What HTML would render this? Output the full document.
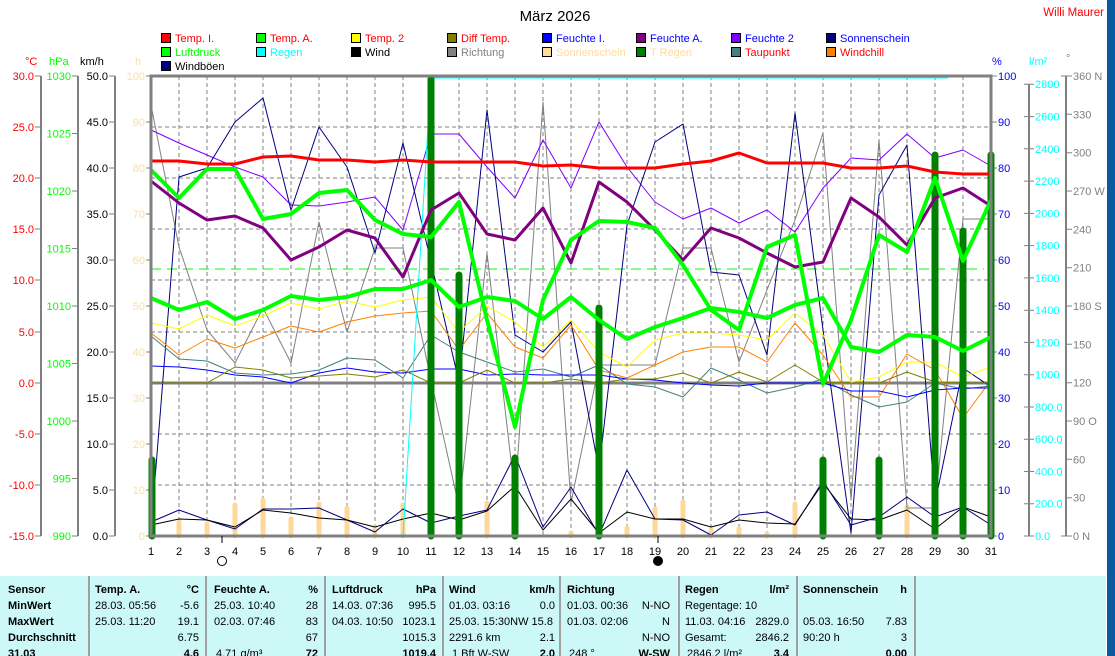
<!DOCTYPE html>
<html><head><meta charset="utf-8"><style>
html,body{margin:0;padding:0;background:#fff;}
svg{display:block;font-family:"Liberation Sans",Arial,sans-serif;font-size:11px;}
</style></head><body>
<svg width="1115" height="656" viewBox="0 0 1115 656" xmlns="http://www.w3.org/2000/svg">
<rect x="0" y="0" width="1115" height="656" fill="#fff"/>
<rect x="1107" y="0" width="8" height="656" fill="#0a5aa0"/>
<text x="555" y="21" font-size="15" text-anchor="middle" fill="#000">März 2026</text>
<text x="1104" y="16" font-size="11.5" text-anchor="end" fill="#f00">Willi Maurer</text>

<!-- legend -->
<g stroke="#000" stroke-width="1">
<rect x="161.5" y="33.5" width="9" height="9" fill="#f00"/>
<rect x="256.5" y="33.5" width="9" height="9" fill="#0f0"/>
<rect x="351.5" y="33.5" width="9" height="9" fill="#ff0"/>
<rect x="447.5" y="33.5" width="9" height="9" fill="#808000"/>
<rect x="542.5" y="33.5" width="9" height="9" fill="#00f"/>
<rect x="636.5" y="33.5" width="9" height="9" fill="#800080"/>
<rect x="731.5" y="33.5" width="9" height="9" fill="#8000ff"/>
<rect x="826.5" y="33.5" width="9" height="9" fill="#000080"/>
<rect x="161.5" y="47.5" width="9" height="9" fill="#0f0"/>
<rect x="256.5" y="47.5" width="9" height="9" fill="#0ff"/>
<rect x="351.5" y="47.5" width="9" height="9" fill="#000"/>
<rect x="447.5" y="47.5" width="9" height="9" fill="#808080"/>
<rect x="542.5" y="47.5" width="9" height="9" fill="#ffdc9c"/>
<rect x="636.5" y="47.5" width="9" height="9" fill="#008000"/>
<rect x="731.5" y="47.5" width="9" height="9" fill="#408080"/>
<rect x="826.5" y="47.5" width="9" height="9" fill="#ff8000"/>
<rect x="161.5" y="61.5" width="9" height="9" fill="#000080"/>
</g>
<text x="175" y="42" fill="#f00">Temp. I.</text>
<text x="270" y="42" fill="#f00">Temp. A.</text>
<text x="365" y="42" fill="#f00">Temp. 2</text>
<text x="461" y="42" fill="#f00">Diff Temp.</text>
<text x="556" y="42" fill="#00f">Feuchte I.</text>
<text x="650" y="42" fill="#00f">Feuchte A.</text>
<text x="745" y="42" fill="#00f">Feuchte 2</text>
<text x="840" y="42" fill="#00f">Sonnenschein</text>
<text x="175" y="56" fill="#0f0">Luftdruck</text>
<text x="270" y="56" fill="#0ff">Regen</text>
<text x="365" y="56" fill="#000">Wind</text>
<text x="461" y="56" fill="#808080">Richtung</text>
<text x="556" y="56" fill="#ffdc9c">Sonnenschein</text>
<text x="650" y="56" fill="#ffdc9c">T Regen</text>
<text x="745" y="56" fill="#f00">Taupunkt</text>
<text x="840" y="56" fill="#f00">Windchill</text>
<text x="175" y="70" fill="#000">Windböen</text>

<!-- unit headers -->
<text x="25" y="65" fill="#f00">°C</text>
<text x="49" y="65" fill="#0f0">hPa</text>
<text x="80" y="65" fill="#000">km/h</text>
<text x="135" y="65" fill="#ffdc9c">h</text>
<text x="992" y="65" fill="#00f">%</text>
<text x="1029" y="65" fill="#0ff">l/m²</text>
<text x="1066" y="62" fill="#808080">°</text>

<!-- left axes -->
<g stroke="#808080" stroke-width="2" fill="none">
<line x1="41" y1="76" x2="41" y2="536"/>
<line x1="78" y1="76" x2="78" y2="536"/>
<line x1="115" y1="76" x2="115" y2="536"/>
<line x1="1029" y1="84" x2="1029" y2="536"/>
<line x1="1066" y1="76" x2="1066" y2="536"/>
</g>
<g stroke="#808080" stroke-width="1">
<path d="M35 76H41M35 127H41M35 178H41M35 229H41M35 280H41M35 332H41M35 383H41M35 434H41M35 485H41M35 536H41"/>
<path d="M72 76H78M72 133.5H78M72 191H78M72 248.5H78M72 306H78M72 363.5H78M72 421H78M72 478.5H78M72 536H78"/>
<path d="M109 76H115M109 122H115M109 168H115M109 214H115M109 260H115M109 306H115M109 352H115M109 398H115M109 444H115M109 490H115M109 536H115"/>
<path d="M146 76H151M146 122H151M146 168H151M146 214H151M146 260H151M146 306H151M146 352H151M146 398H151M146 444H151M146 490H151M146 536H151"/>
<path d="M991 76H997M991 122H997M991 168H997M991 214H997M991 260H997M991 306H997M991 352H997M991 398H997M991 444H997M991 490H997M991 536H997"/>
<path d="M1024 84.3H1034M1024 116.6H1034M1024 148.8H1034M1024 181.1H1034M1024 213.4H1034M1024 245.6H1034M1024 277.9H1034M1024 310.2H1034M1024 342.4H1034M1024 374.7H1034M1024 407H1034M1024 439.2H1034M1024 471.5H1034M1024 503.7H1034M1024 536H1034"/>
<path d="M1061 76H1072M1066 114.3H1072M1066 152.7H1072M1066 191H1072M1066 229.3H1072M1066 267.7H1072M1066 306H1072M1066 344.3H1072M1066 382.7H1072M1066 421H1072M1066 459.3H1072M1066 497.7H1072M1061 536H1072"/>
</g>
<g fill="#f00" text-anchor="end">
<text x="34" y="80">30.0</text><text x="34" y="131">25.0</text><text x="34" y="182">20.0</text><text x="34" y="233">15.0</text><text x="34" y="284">10.0</text><text x="34" y="336">5.0</text><text x="34" y="387">0.0</text><text x="34" y="438">-5.0</text><text x="34" y="489">-10.0</text><text x="34" y="540">-15.0</text>
</g>
<g fill="#0f0" text-anchor="end">
<text x="71" y="80">1030</text><text x="71" y="137.5">1025</text><text x="71" y="195">1020</text><text x="71" y="252.5">1015</text><text x="71" y="310">1010</text><text x="71" y="367.5">1005</text><text x="71" y="425">1000</text><text x="71" y="482.5">995</text><text x="71" y="540">990</text>
</g>
<g fill="#000" text-anchor="end">
<text x="108" y="80">50.0</text><text x="108" y="126">45.0</text><text x="108" y="172">40.0</text><text x="108" y="218">35.0</text><text x="108" y="264">30.0</text><text x="108" y="310">25.0</text><text x="108" y="356">20.0</text><text x="108" y="402">15.0</text><text x="108" y="448">10.0</text><text x="108" y="494">5.0</text><text x="108" y="540">0.0</text>
</g>
<g fill="#ffdc9c" text-anchor="end">
<text x="145" y="80">100</text><text x="145" y="126">90</text><text x="145" y="172">80</text><text x="145" y="218">70</text><text x="145" y="264">60</text><text x="145" y="310">50</text><text x="145" y="356">40</text><text x="145" y="402">30</text><text x="145" y="448">20</text><text x="145" y="494">10</text><text x="145" y="540">0</text>
</g>
<g fill="#00f">
<text x="998" y="80">100</text><text x="998" y="126">90</text><text x="998" y="172">80</text><text x="998" y="218">70</text><text x="998" y="264">60</text><text x="998" y="310">50</text><text x="998" y="356">40</text><text x="998" y="402">30</text><text x="998" y="448">20</text><text x="998" y="494">10</text><text x="998" y="540">0</text>
</g>
<g fill="#0ff">
<text x="1035" y="88">2800</text><text x="1035" y="120.6">2600</text><text x="1035" y="152.8">2400</text><text x="1035" y="185">2200</text><text x="1035" y="217.4">2000</text><text x="1035" y="249.6">1800</text><text x="1035" y="282">1600</text><text x="1035" y="314.2">1400</text><text x="1035" y="346.4">1200</text><text x="1035" y="378.7">1000</text><text x="1035" y="411">800.0</text><text x="1035" y="443.2">600.0</text><text x="1035" y="475.5">400.0</text><text x="1035" y="507.7">200.0</text><text x="1035" y="540">0.0</text>
</g>
<g fill="#808080">
<text x="1073" y="80">360 N</text><text x="1073" y="118.3">330</text><text x="1073" y="156.7">300</text><text x="1073" y="195">270 W</text><text x="1073" y="233.3">240</text><text x="1073" y="271.7">210</text><text x="1073" y="310">180 S</text><text x="1073" y="348.3">150</text><text x="1073" y="386.7">120</text><text x="1073" y="425">90  O</text><text x="1073" y="463.3">60</text><text x="1073" y="501.7">30</text><text x="1073" y="540">0    N</text>
</g>

<!-- grid -->
<g stroke="#808080" stroke-width="1" stroke-dasharray="4,3">
<path d="M151 127H991M151 178H991M151 229H991M151 280H991M151 332H991M151 434H991M151 485H991"/>
<path d="M179 76V536M207 76V536M235 76V536M263 76V536M291 76V536M319 76V536M347 76V536M375 76V536M403 76V536M431 76V536M459 76V536M487 76V536M515 76V536M543 76V536M571 76V536M599 76V536M627 76V536M655 76V536M683 76V536M711 76V536M739 76V536M767 76V536M795 76V536M823 76V536M851 76V536M879 76V536M907 76V536M935 76V536M963 76V536"/>
</g>
<line x1="151" y1="269" x2="984" y2="269" stroke="#0f0" stroke-width="1" stroke-dasharray="10,6"/>
<line x1="151" y1="383" x2="991" y2="383" stroke="#808080" stroke-width="3"/>

<!-- sunshine bars -->
<g stroke="#ffd898" stroke-width="5" stroke-linecap="round">
<path d="M179 536V522M207 536V524M235 536V505M263 536V500M291 536V519M319 536V504M347 536V508M375 536V527M403 536V505M431 536V529M459 536V534M487 536V503M515 536V535M571 536V533M627 536V528M655 536V509M683 536V502M711 536V530M739 536V529M767 536V534M795 536V504M823 536V534M879 536V529M907 536V507M935 536V535M963 536V535"/>
</g>

<!-- thin lines -->
<g fill="none" stroke-width="1" stroke-linejoin="round">
<polyline stroke="#808080" points="151,105 179,247 207,330 235,363 263,308 291,363 319,222 347,332 375,248 403,248 431,380 459,507 487,253 515,495 543,102 571,503 599,365 627,365 655,365 683,248 711,248 739,362 767,290 795,220 823,133 851,500 879,140 907,508 935,508 963,219 991,219"/>
<polyline stroke="#8000ff" points="151,130 179,143 207,155 235,167 263,177 291,205 319,206 347,202 375,197 403,230 431,134 459,134 487,167 515,198 543,140 571,188 599,122 627,167 655,202 683,219 711,208 739,223 767,210 795,232 823,188 851,158 879,160 907,134 935,158 963,150 991,166"/>
<polyline stroke="#000080" points="151,530 179,177 207,168 235,122 263,98 291,210 319,127 347,167 375,253 403,143 431,262 459,382 487,110 515,335 543,352 571,322 599,470 627,225 655,142 683,124 711,272 739,275 767,355 795,113 823,330 851,533 879,195 907,145 935,503 963,368 991,387"/>
<polyline stroke="#ffff00" points="151,323 179,329 207,315 235,326 263,316 291,303 319,309 347,301 375,307 403,300 431,297 459,332 487,306 515,322 543,347 571,320 599,352 627,367 655,340 683,333 711,333 739,335 767,340 795,313 823,335 851,382 879,377 907,362 935,362 963,377 991,367"/>
<polyline stroke="#ff8000" points="151,333 179,355 207,339 235,348 263,337 291,326 319,332 347,322 375,316 403,313 431,311 459,350 487,313 515,347 543,358 571,325 599,370 627,378 655,365 683,352 711,347 739,347 767,362 795,323 823,355 851,397 879,397 907,354 935,370 963,418 991,380"/>
<polyline stroke="#408080" points="151,336 179,359 207,361 235,373 263,375 291,374 319,370 347,358 375,360 403,378 431,335 459,352 487,362 515,372 543,369 571,377 599,365 627,384 655,387 683,397 711,368 739,380 767,393 795,387 823,379 851,395 879,407 907,402 935,383 963,389 991,386"/>
<polyline stroke="#0000ff" points="151,366 179,367 207,370 235,375 263,377 291,383 319,373 347,368 375,372 403,373 431,369 459,369 487,375 515,374 543,375 571,375 599,375 627,379 655,380 683,383 711,385 739,386 767,383 795,383 823,383 851,391 879,391 907,397 935,390 963,388 991,388"/>
<polyline stroke="#808000" points="151,383 179,383 207,383 235,367 263,370 291,378 319,376 347,374 375,377 403,370 431,383 459,383 487,370 515,383 543,383 571,379 599,383 627,379 655,379 683,373 711,383 739,372 767,382 795,365 823,382 851,383 879,383 907,372 935,382 963,383 991,383"/>
<polyline stroke="#000080" points="151,522 179,510 207,520 235,529 263,509 291,509 319,508 347,520 375,532 403,509 431,523 459,516 487,510 515,455 543,527 571,487 599,535 627,470 655,519 683,520 711,535 739,515 767,512 795,525 823,481 851,525 879,517 907,497 935,517 963,507 991,525"/>
<polyline stroke="#000" points="151,525 179,519 207,520 235,527 263,510 291,513 319,518 347,520 375,527 403,519 431,513 459,520 487,511 515,486 543,530 571,499 599,533 627,512 655,519 683,519 711,527 739,520 767,523 795,524 823,483 851,519 879,520 907,510 935,529 963,507 991,517"/>
<polyline stroke="#0ff" points="151,536 403,536 431,78 948,78"/>
</g>

<!-- rain bars -->
<g stroke="#008000" stroke-width="7" stroke-linecap="round">
<path d="M152 536V460M431 536V79M459 536V275M515 536V458M599 536V308M823 536V460M879 536V460M935 536V155M963 536V231M991 536V155"/>
</g>

<!-- thick lines -->
<g fill="none" stroke-linejoin="round">
<polyline stroke="#800080" stroke-width="3" points="151,181 179,203 207,220 235,216 263,228 291,260 319,247 347,230 375,238 403,277 431,210 459,193 487,234 515,240 543,208 571,263 599,182 627,202 655,230 683,260 711,228 739,238 767,253 795,267 823,262 851,198 879,217 907,245 935,198 963,188 991,206"/>
<polyline stroke="#f00" stroke-width="3" points="151,161 179,161 207,164 235,164 263,157 291,156 319,160 347,160 375,162 403,160 431,162 459,162 487,162 515,162 543,166 571,165 599,168 627,168 655,168 683,164 711,161 739,153 767,163 795,163 823,163 851,168 879,168 907,166 935,172 963,174 991,174"/>
<polyline stroke="#00ff00" stroke-width="4" points="151,298 179,310 207,302 235,319 263,310 291,296 319,300 347,297 375,289 403,289 431,280 459,307 487,297 515,301 543,319 571,297 599,320 627,339 655,327 683,318 711,308 739,312 767,318 795,305 823,298 851,347 879,352 907,335 935,337 963,351 991,337"/>
<polyline stroke="#00ff00" stroke-width="4" points="151,170 179,198 207,169 235,169 263,219 291,214 319,193 347,190 375,220 403,234 431,237 459,202 487,320 515,427 543,300 571,240 599,221 627,222 655,228 683,265 711,310 739,330 767,247 795,235 823,384 851,320 879,235 907,252 935,178 963,261 991,200"/>
</g>

<!-- frame -->
<rect x="151" y="76" width="840" height="460" fill="none" stroke="#808080" stroke-width="3"/>

<!-- x labels -->
<g fill="#000" text-anchor="middle">
<text x="151" y="555">1</text><text x="179" y="555">2</text><text x="207" y="555">3</text><text x="235" y="555">4</text><text x="263" y="555">5</text><text x="291" y="555">6</text><text x="319" y="555">7</text><text x="347" y="555">8</text><text x="375" y="555">9</text><text x="403" y="555">10</text><text x="431" y="555">11</text><text x="459" y="555">12</text><text x="487" y="555">13</text><text x="515" y="555">14</text><text x="543" y="555">15</text><text x="571" y="555">16</text><text x="599" y="555">17</text><text x="627" y="555">18</text><text x="655" y="555">19</text><text x="683" y="555">20</text><text x="711" y="555">21</text><text x="739" y="555">22</text><text x="767" y="555">23</text><text x="795" y="555">24</text><text x="823" y="555">25</text><text x="851" y="555">26</text><text x="879" y="555">27</text><text x="907" y="555">28</text><text x="935" y="555">29</text><text x="963" y="555">30</text><text x="991" y="555">31</text>
</g>
<line x1="222" y1="536" x2="222" y2="543" stroke="#000"/>
<line x1="658" y1="536" x2="658" y2="543" stroke="#000"/>
<circle cx="222" cy="561" r="4.5" fill="#fff" stroke="#000"/>
<circle cx="658" cy="561" r="4.5" fill="#000" stroke="#000"/>

<!-- table -->
<rect x="0" y="576" width="1106" height="80" fill="#ccf8f8"/>
<g stroke="#a0a0a0" stroke-width="2">
<path d="M89 576V656M206 576V656M325 576V656M443 576V656M560 576V656M679 576V656M797 576V656M915 576V656"/>
</g>
<g fill="#000">
<g font-weight="bold">
<text x="8" y="593">Sensor</text><text x="8" y="609">MinWert</text><text x="8" y="625">MaxWert</text><text x="8" y="641">Durchschnitt</text><text x="8" y="657">31.03</text>
<text x="95" y="593">Temp. A.</text><text x="199" y="593" text-anchor="end">°C</text>
<text x="214" y="593">Feuchte A.</text><text x="318" y="593" text-anchor="end">%</text>
<text x="332" y="593">Luftdruck</text><text x="436" y="593" text-anchor="end">hPa</text>
<text x="449" y="593">Wind</text><text x="555" y="593" text-anchor="end">km/h</text>
<text x="567" y="593">Richtung</text>
<text x="685" y="593">Regen</text><text x="789" y="593" text-anchor="end">l/m²</text>
<text x="803" y="593">Sonnenschein</text><text x="907" y="593" text-anchor="end">h</text>
<text x="199" y="657" text-anchor="end">4.6</text><text x="318" y="657" text-anchor="end">72</text><text x="436" y="657" text-anchor="end">1019.4</text><text x="555" y="657" text-anchor="end">2.0</text><text x="670" y="657" text-anchor="end">W-SW</text><text x="789" y="657" text-anchor="end">3.4</text><text x="907" y="657" text-anchor="end">0.00</text>
</g>
<text x="95" y="609">28.03.  05:56</text><text x="199" y="609" text-anchor="end">-5.6</text>
<text x="95" y="625">25.03.  11:20</text><text x="199" y="625" text-anchor="end">19.1</text>
<text x="199" y="641" text-anchor="end">6.75</text>
<text x="214" y="609">25.03.  10:40</text><text x="318" y="609" text-anchor="end">28</text>
<text x="214" y="625">02.03.  07:46</text><text x="318" y="625" text-anchor="end">83</text>
<text x="318" y="641" text-anchor="end">67</text>
<text x="216" y="657">4.71 g/m³</text>
<text x="332" y="609">14.03.  07:36</text><text x="436" y="609" text-anchor="end">995.5</text>
<text x="332" y="625">04.03.  10:50</text><text x="436" y="625" text-anchor="end">1023.1</text>
<text x="436" y="641" text-anchor="end">1015.3</text>
<text x="449" y="609">01.03.  03:16</text><text x="555" y="609" text-anchor="end">0.0</text>
<text x="449" y="625">25.03.  15:30NW 15.8</text>
<text x="449" y="641">2291.6 km</text><text x="555" y="641" text-anchor="end">2.1</text>
<text x="452" y="657">1 Bft W-SW</text>
<text x="567" y="609">01.03.  00:36</text><text x="670" y="609" text-anchor="end">N-NO</text>
<text x="567" y="625">01.03.  02:06</text><text x="670" y="625" text-anchor="end">N</text>
<text x="670" y="641" text-anchor="end">N-NO</text>
<text x="569" y="657">248 °</text>
<text x="685" y="609">Regentage: 10</text>
<text x="685" y="625">11.03.  04:16</text><text x="789" y="625" text-anchor="end">2829.0</text>
<text x="685" y="641">Gesamt:</text><text x="789" y="641" text-anchor="end">2846.2</text>
<text x="687" y="657">2846.2 l/m²</text>
<text x="803" y="625">05.03.  16:50</text><text x="907" y="625" text-anchor="end">7.83</text>
<text x="803" y="641">90:20 h</text><text x="907" y="641" text-anchor="end">3</text>
</g>
</svg>
</body></html>
